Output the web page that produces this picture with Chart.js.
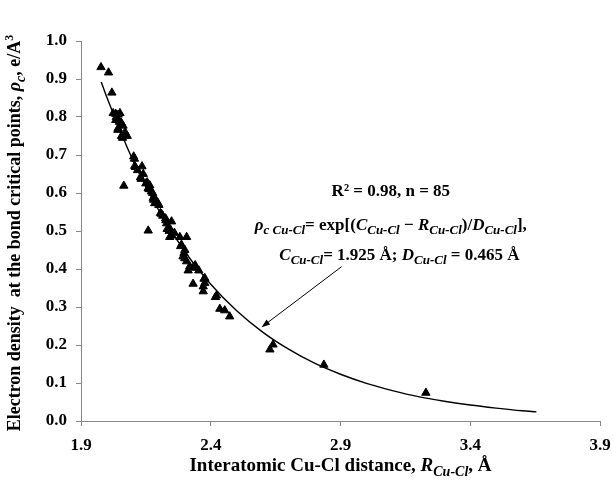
<!DOCTYPE html>
<html>
<head>
<meta charset="utf-8">
<script src="https://cdn.jsdelivr.net/npm/chart.js@4.4.0/dist/chart.umd.min.js"></script>
<style>
html, body { margin: 0; padding: 0; background: #fff; }
#wrap { width: 613px; height: 485px; }
</style>
</head>
<body>
<div id="wrap"><canvas id="chart" width="613" height="485"></canvas></div>
<script>
// Cu-Cl bonds: interatomic distance (Å) and density at the bond critical point (e/Å^3)
const distR = [
  1.977, 2.006, 2.019, 2.024, 2.034, 2.043, 2.050, 2.034, 2.043, 2.056,
  2.062, 2.043, 2.042, 2.056, 2.078, 2.060, 2.065, 2.103, 2.106, 2.107,
  2.110, 2.135, 2.129, 2.132, 2.155, 2.150, 2.159, 2.162, 2.171, 2.176,
  2.178, 2.180, 2.184, 2.197, 2.200, 2.206, 2.210, 2.226, 2.227, 2.249,
  2.230, 2.232, 2.245, 2.240, 2.159, 2.242, 2.250, 2.281, 2.307, 2.287,
  2.284, 2.297, 2.293, 2.300, 2.307, 2.319, 2.313, 2.332, 2.354, 2.332,
  2.374, 2.377, 2.377, 2.371, 2.371, 2.422, 2.418, 2.435, 2.454, 2.473,
  2.628, 2.640, 2.836, 3.229, 2.036, 2.048, 2.070, 2.118, 2.140, 2.165,
  2.190, 2.215, 2.260, 2.300, 2.340
];
const rhoC = [
  0.931, 0.917, 0.864, 0.810, 0.808, 0.806, 0.810, 0.792, 0.794, 0.784,
  0.777, 0.770, 0.766, 0.750, 0.750, 0.745, 0.619, 0.696, 0.690, 0.671,
  0.668, 0.670, 0.641, 0.637, 0.628, 0.625, 0.613, 0.610, 0.604, 0.600,
  0.587, 0.582, 0.573, 0.573, 0.568, 0.547, 0.545, 0.533, 0.528, 0.525,
  0.520, 0.505, 0.503, 0.500, 0.501, 0.484, 0.488, 0.484, 0.484, 0.464,
  0.460, 0.442, 0.433, 0.428, 0.420, 0.407, 0.396, 0.403, 0.396, 0.361,
  0.374, 0.376, 0.363, 0.354, 0.341, 0.330, 0.326, 0.295, 0.291, 0.275,
  0.188, 0.201, 0.148, 0.074, 0.800, 0.787, 0.760, 0.660, 0.650, 0.620,
  0.580, 0.540, 0.495, 0.450, 0.410
];

// exponential trend line
const fitR   = [1.978, 2.0, 2.1, 2.2, 2.3, 2.4, 2.5, 2.6, 2.7, 2.8, 2.9, 3.0, 3.1, 3.2, 3.3, 3.4, 3.5, 3.6, 3.655];
const fitRho = [0.892, 0.851, 0.686, 0.554, 0.446, 0.360, 0.290, 0.234, 0.189, 0.152, 0.123, 0.099, 0.080, 0.064, 0.052, 0.042, 0.034, 0.027, 0.024];

const xMin = 1.9, xMax = 3.9, xStep = 0.5;
const yMin = 0.0, yMax = 1.0, yStep = 0.1;

// arrow from the fit note down to the curve (data coordinates)
const arrowFrom = [2.904, 0.406];
const arrowTo   = [2.596, 0.247];
const noteX = [3.094, 3.094, 3.127];
const noteY = [0.608, 0.519, 0.440];

const SERIF = '"Liberation Serif", "Times New Roman", serif';

function fontFor(kind, size) {
  if (kind === 'bi') return 'italic bold ' + size + 'px ' + SERIF;
  if (kind === 'sub') return 'italic bold ' + Math.round(size * 0.76) + 'px ' + SERIF;
  if (kind === 'sup') return 'bold ' + Math.round(size * 0.65) + 'px ' + SERIF;
  return 'bold ' + size + 'px ' + SERIF;
}

function richWidth(ctx, segs, size) {
  let w = 0;
  segs.forEach(s => { ctx.font = fontFor(s[0], size); w += ctx.measureText(s[1]).width; });
  return w;
}

// draws a line of mixed bold / italic / sub / sup text, centred on x, baseline y
function drawRich(ctx, segs, x, y, size) {
  let cx = x - richWidth(ctx, segs, size) / 2;
  ctx.textAlign = 'left';
  ctx.textBaseline = 'alphabetic';
  segs.forEach(s => {
    ctx.font = fontFor(s[0], size);
    let dy = 0;
    if (s[0] === 'sub') dy = size * 0.25;
    if (s[0] === 'sup') dy = -size * 0.4;
    ctx.fillText(s[1], cx, y + dy);
    cx += ctx.measureText(s[1]).width;
  });
}

const noteLines = [
  [['b', 'R\u00B2 = 0.98, n = 85']],
  [['bi', '\u03C1'], ['sub', 'c Cu-Cl'], ['b', '= exp[('], ['bi', 'C'], ['sub', 'Cu-Cl'],
   ['b', ' \u2212 '], ['bi', 'R'], ['sub', 'Cu-Cl'], ['b', ')/'], ['bi', 'D'], ['sub', 'Cu-Cl'], ['b', '],']],
  [['bi', 'C'], ['sub', 'Cu-Cl'], ['b', '= 1.925 \u00C5; '], ['bi', 'D'], ['sub', 'Cu-Cl'], ['b', ' = 0.465 \u00C5']]
];

const xTitle = [['b', 'Interatomic Cu-Cl distance, '], ['bi', 'R'], ['sub', 'Cu-Cl'], ['b', ', \u00C5']];
const yTitle = [['b', 'Electron density  at the bond critical points, '], ['bi', '\u03C1'], ['sub', 'c'],
                ['b', ', e/A'], ['sup', '3']];

const textPlugin = {
  id: 'richText',
  afterDraw(chart) {
    const ctx = chart.ctx;
    const xs = chart.scales.x, ys = chart.scales.y;
    const area = chart.chartArea;
    ctx.save();
    ctx.fillStyle = '#000';

    // fit note
    noteLines.forEach((line, i) => {
      drawRich(ctx, line, xs.getPixelForValue(noteX[i]), ys.getPixelForValue(noteY[i]) + 6, 17);
    });

    // arrow
    const x1 = xs.getPixelForValue(arrowFrom[0]), y1 = ys.getPixelForValue(arrowFrom[1]);
    const x2 = xs.getPixelForValue(arrowTo[0]), y2 = ys.getPixelForValue(arrowTo[1]);
    const ang = Math.atan2(y2 - y1, x2 - x1);
    ctx.strokeStyle = '#000';
    ctx.lineWidth = 1;
    ctx.beginPath();
    ctx.moveTo(x1, y1);
    ctx.lineTo(x2 - Math.cos(ang) * 6, y2 - Math.sin(ang) * 6);
    ctx.stroke();
    ctx.beginPath();
    ctx.moveTo(x2, y2);
    ctx.lineTo(x2 - 9 * Math.cos(ang - 0.35), y2 - 9 * Math.sin(ang - 0.35));
    ctx.lineTo(x2 - 9 * Math.cos(ang + 0.35), y2 - 9 * Math.sin(ang + 0.35));
    ctx.closePath();
    ctx.fill();

    // axis titles
    drawRich(ctx, xTitle, (area.left + area.right) / 2, 471, 19);
    ctx.translate(20, (area.top + area.bottom) / 2 + 2);
    ctx.rotate(-Math.PI / 2);
    drawRich(ctx, yTitle, 0, 0, 18);
    ctx.restore();
  }
};

const tickFont = { family: SERIF, size: 17, weight: 'bold' };

new Chart(document.getElementById('chart'), {
  type: 'scatter',
  data: {
    datasets: [
      {
        type: 'line',
        data: fitR.map((r, i) => ({ x: r, y: fitRho[i] })),
        borderColor: '#000',
        borderWidth: 1.4,
        pointRadius: 0,
        cubicInterpolationMode: 'monotone',
        fill: false
      },
      {
        data: distR.map((r, i) => ({ x: r, y: rhoC[i] })),
        pointStyle: 'triangle',
        pointRadius: 4.8,
        backgroundColor: '#000',
        borderColor: '#000',
        borderWidth: 1
      }
    ]
  },
  plugins: [textPlugin],
  options: {
    responsive: false,
    animation: false,
    layout: { padding: { top: 41, right: 13, left: 0, bottom: 0 } },
    plugins: { legend: { display: false }, tooltip: { enabled: false } },
    scales: {
      x: {
        type: 'linear',
        min: xMin, max: xMax,
        afterFit(scale) { scale.height = 64; scale.paddingLeft = 0; scale.paddingRight = 0; },
        grid: { drawOnChartArea: false, tickLength: 5, color: '#888' },
        border: { color: '#888' },
        ticks: { stepSize: xStep, font: tickFont, color: '#000', padding: 9,
                 maxRotation: 0, callback: v => v.toFixed(1) }
      },
      y: {
        min: yMin, max: yMax,
        afterFit(scale) { scale.width = 81; scale.paddingTop = 0; scale.paddingBottom = 0; },
        grid: { drawOnChartArea: false, tickLength: 5, color: '#888' },
        border: { color: '#888' },
        ticks: { stepSize: yStep, font: tickFont, color: '#000', padding: 9,
                 callback: v => v.toFixed(1) }
      }
    }
  }
});
</script>
</body>
</html>
